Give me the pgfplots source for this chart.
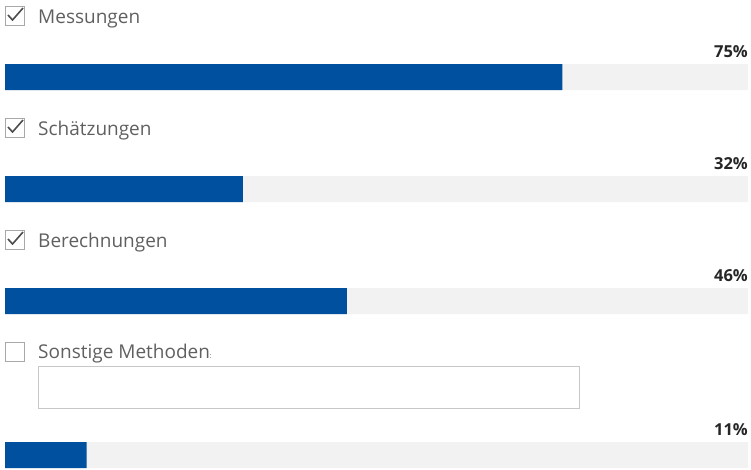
\documentclass[border=0pt]{standalone}
\usepackage{pgfplots}
\pgfplotsset{compat=1.18}
\usepackage{pgfplotstable}
\usepackage{fontspec}
\setmainfont{Open Sans}
\definecolor{barblue}{HTML}{0050A0}
\definecolor{bargray}{HTML}{F2F2F2}
\definecolor{labelgray}{HTML}{606060}
\definecolor{boxgray}{HTML}{A8A8A8}

% bar centre (pixels from top), percentage
\pgfplotstableread{
y pct
77 75
189 32
301 46
455 11
}\answers

\begin{document}
\begin{tikzpicture}
\path (0,0) rectangle (751pt,-469pt);
\begin{axis}[
    at={(0pt,0pt)}, anchor=north west,
    scale only axis, width=751pt, height=469pt,
    hide axis, clip=false,
    xmin=-0.673, xmax=100.404,
    ymin=0, ymax=469, y dir=reverse,
    xbar, bar width=26pt, bar shift=0pt,
    point meta=explicit,
]
  \addplot[draw=none, fill=bargray,
    nodes near coords={\pgfmathprintnumber[assume math mode=true]{\pgfplotspointmeta}\%},
    every node near coord/.append style={anchor=base east, yshift=20pt,
      font=\fontsize{16.5}{16.5}\selectfont\bfseries, text=black!85, inner sep=0pt}]
    table[x expr=100, y=y, meta=pct] {\answers};
  \addplot[draw=none, fill=barblue] table[x=pct, y=y] {\answers};
\end{axis}
\begin{scope}[x=1pt, y=-1pt, font=\fontsize{19}{19}\selectfont, text=labelgray]
  \foreach \t/\lab in {5/Messungen, 117/Schätzungen, 229/Berechnungen}{
    \draw[boxgray, line width=1pt] (5,\t+1) rectangle (24,\t+20);
    \draw[black!70, line width=1.6pt] (8,\t+10) -- (12.5,\t+15) -- (23,\t+3);
    \node[anchor=base west, inner sep=0pt] at (38,\t+18) {\lab};
  }
  \draw[boxgray, line width=1pt] (5,342) rectangle (24,361);
  \node[anchor=base west, inner sep=0pt] at (38,358) {Sonstige Methoden\scriptsize{:}};
  \draw[black!22, line width=1pt] (38,366) rectangle (579,408);
\end{scope}
\end{tikzpicture}
\end{document}
